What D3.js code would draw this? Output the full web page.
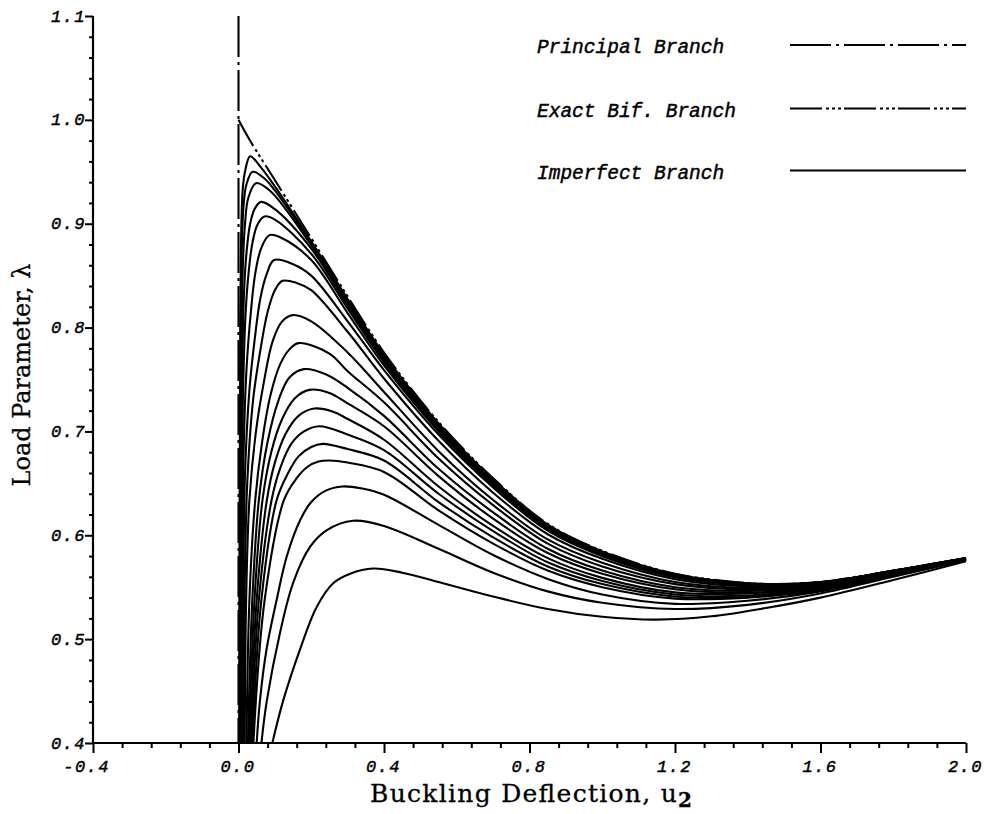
<!DOCTYPE html>
<html><head><meta charset="utf-8">
<script src="https://cdn.jsdelivr.net/npm/d3@7"></script>
<style>body{margin:0;background:#fff}</style>
</head><body>
<svg id="chart" width="985" height="814"></svg>
<script>
// ---- data ----
const xTicksMajor = [-0.4, 0.0, 0.4, 0.8, 1.2, 1.6, 2.0];
const xTickLabels = ["-0.4", "0.0", "0.4", "0.8", "1.2", "1.6", "2.0"];
const yTicksMajor = [0.4, 0.5, 0.6, 0.7, 0.8, 0.9, 1.0, 1.1];
const yTickLabels = ["0.4", "0.5", "0.6", "0.7", "0.8", "0.9", "1.0", "1.1"];
const legendLabels = ["Principal Branch", "Exact Bif. Branch", "Imperfect Branch"];

const principalU = [0, 0];
const principalL = [1.1, 0.4];

const bifU = [0, 0.03, 0.1, 0.2, 0.3, 0.4, 0.55, 0.7, 0.85, 1.0, 1.2, 1.4, 1.5, 1.6, 1.8, 2.0];
const bifL = [1.0, 0.981, 0.942, 0.886, 0.830, 0.776, 0.709, 0.655, 0.611, 0.585, 0.563, 0.554, 0.553, 0.555, 0.566, 0.578];

const imp01 = [[0.002,0.4],[0.003,0.6],[0.005,0.8],[0.008,0.9],[0.012,0.935],[0.019,0.952],[0.032,0.965],[0.06,0.955],[0.1,0.936],[0.2,0.883],[0.3,0.8275],[0.4,0.7743],[0.55,0.7078],[0.7,0.6541],[0.85,0.6103],[1.0,0.5845],[1.2,0.5626],[1.4,0.5538],[1.6,0.5549],[1.8,0.5659],[2.0,0.578]];
const imp02 = [[0.003,0.4],[0.004,0.6],[0.006,0.8],[0.010,0.89],[0.015,0.922],[0.022,0.938],[0.039,0.950],[0.07,0.944],[0.1,0.932],[0.2,0.881],[0.3,0.826],[0.4,0.7729],[0.55,0.7067],[0.7,0.6533],[0.85,0.6098],[1.0,0.584],[1.2,0.5623],[1.4,0.5536],[1.6,0.5548],[1.8,0.5659],[2.0,0.578]];
const imp03 = [[0.004,0.4],[0.005,0.6],[0.008,0.78],[0.012,0.86],[0.018,0.9],[0.027,0.925],[0.048,0.939],[0.075,0.935],[0.1,0.927],[0.2,0.879],[0.3,0.824],[0.4,0.7708],[0.55,0.7052],[0.7,0.6522],[0.85,0.609],[1.0,0.5834],[1.2,0.5619],[1.4,0.5534],[1.6,0.5546],[1.8,0.5658],[2.0,0.578]];
const imp04 = [[0.005,0.4],[0.006,0.6],[0.010,0.76],[0.016,0.84],[0.022,0.872],[0.031,0.898],[0.044,0.914],[0.062,0.921],[0.1,0.914],[0.2,0.876],[0.3,0.8215],[0.4,0.7687],[0.55,0.7036],[0.7,0.651],[0.85,0.6081],[1.0,0.5828],[1.2,0.5615],[1.4,0.5531],[1.6,0.5545],[1.8,0.5657],[2.0,0.5779]];
const imp05 = [[0.007,0.4],[0.008,0.6],[0.012,0.73],[0.019,0.81],[0.027,0.85],[0.038,0.881],[0.052,0.899],[0.071,0.907],[0.1,0.904],[0.2,0.871],[0.3,0.8185],[0.4,0.7666],[0.55,0.7021],[0.7,0.6499],[0.85,0.6073],[1.0,0.5821],[1.2,0.561],[1.4,0.5528],[1.6,0.5544],[1.8,0.5656],[2.0,0.5779]];
const imp06 = [[0.009,0.4],[0.010,0.55],[0.014,0.68],[0.022,0.76],[0.034,0.815],[0.046,0.852],[0.062,0.876],[0.085,0.889],[0.12,0.886],[0.2,0.865],[0.3,0.814],[0.4,0.7635],[0.55,0.700],[0.7,0.648],[0.85,0.606],[1.0,0.581],[1.2,0.5604],[1.4,0.5524],[1.6,0.5542],[1.8,0.5655],[2.0,0.5778]];
const imp07 = [[0.011,0.4],[0.013,0.55],[0.018,0.66],[0.030,0.74],[0.045,0.79],[0.060,0.828],[0.077,0.851],[0.098,0.865],[0.15,0.861],[0.2,0.850],[0.3,0.806],[0.4,0.759],[0.55,0.697],[0.7,0.646],[0.85,0.6044],[1.0,0.5799],[1.2,0.5595],[1.4,0.5519],[1.6,0.5539],[1.8,0.5654],[2.0,0.5778]];
const imp08 = [[0.014,0.4],[0.017,0.55],[0.024,0.65],[0.040,0.73],[0.060,0.778],[0.080,0.815],[0.100,0.836],[0.121,0.845],[0.16,0.843],[0.2,0.836],[0.3,0.796],[0.4,0.751],[0.55,0.691],[0.7,0.641],[0.85,0.601],[1.0,0.5773],[1.2,0.5577],[1.4,0.5509],[1.6,0.5533],[1.8,0.565],[2.0,0.5776]];
const imp09 = [[0.017,0.4],[0.021,0.538],[0.030,0.634],[0.048,0.70],[0.070,0.748],[0.094,0.787],[0.120,0.806],[0.149,0.812],[0.2,0.806],[0.3,0.776],[0.4,0.738],[0.55,0.681],[0.7,0.634],[0.85,0.596],[1.0,0.5735],[1.2,0.555],[1.4,0.5493],[1.6,0.5525],[1.8,0.5646],[2.0,0.5775]];
const imp10 = [[0.022,0.4],[0.030,0.538],[0.046,0.634],[0.065,0.69],[0.088,0.735],[0.115,0.765],[0.140,0.779],[0.165,0.785],[0.25,0.775],[0.3,0.758],[0.4,0.728],[0.55,0.674],[0.7,0.629],[0.85,0.592],[1.0,0.570],[1.2,0.553],[1.4,0.548],[1.6,0.5518],[1.8,0.5642],[2.0,0.5773]];
const imp11 = [[0.026,0.4],[0.038,0.538],[0.056,0.634],[0.080,0.69],[0.110,0.73],[0.140,0.752],[0.180,0.760],[0.24,0.755],[0.3,0.742],[0.4,0.715],[0.55,0.664],[0.7,0.622],[0.85,0.587],[1.0,0.566],[1.2,0.550],[1.4,0.5465],[1.6,0.551],[1.8,0.5637],[2.0,0.5771]];
const imp12 = [[0.029,0.4],[0.044,0.538],[0.066,0.634],[0.090,0.68],[0.120,0.712],[0.155,0.732],[0.195,0.740],[0.25,0.737],[0.3,0.727],[0.4,0.705],[0.55,0.657],[0.7,0.616],[0.85,0.583],[1.0,0.563],[1.2,0.548],[1.4,0.545],[1.6,0.5502],[1.8,0.5633],[2.0,0.577]];
const imp13 = [[0.032,0.4],[0.050,0.538],[0.078,0.634],[0.100,0.67],[0.130,0.698],[0.165,0.715],[0.208,0.722],[0.26,0.719],[0.3,0.712],[0.4,0.692],[0.55,0.647],[0.7,0.609],[0.85,0.578],[1.0,0.559],[1.2,0.545],[1.4,0.544],[1.6,0.5494],[1.8,0.5628],[2.0,0.5768]];
const imp14 = [[0.035,0.4],[0.056,0.538],[0.091,0.634],[0.115,0.665],[0.145,0.688],[0.180,0.700],[0.222,0.705],[0.3,0.697],[0.4,0.682],[0.55,0.640],[0.7,0.604],[0.85,0.574],[1.0,0.556],[1.2,0.543],[1.4,0.542],[1.6,0.549],[1.8,0.5624],[2.0,0.5767]];
const imp15 = [[0.038,0.4],[0.063,0.538],[0.105,0.634],[0.135,0.659],[0.165,0.676],[0.200,0.685],[0.231,0.688],[0.3,0.683],[0.4,0.672],[0.55,0.632],[0.7,0.598],[0.85,0.570],[1.0,0.553],[1.2,0.541],[1.4,0.5405],[1.6,0.548],[1.8,0.562],[2.0,0.5765]];
const imp16 = [[0.041,0.4],[0.072,0.538],[0.125,0.634],[0.160,0.655],[0.190,0.666],[0.220,0.671],[0.250,0.672],[0.3,0.670],[0.4,0.661],[0.55,0.624],[0.7,0.592],[0.85,0.566],[1.0,0.550],[1.2,0.539],[1.4,0.540],[1.6,0.547],[1.8,0.562],[2.0,0.5763]];
const imp17 = [[0.050,0.4],[0.059,0.441],[0.077,0.490],[0.105,0.538],[0.133,0.580],[0.170,0.615],[0.200,0.632],[0.240,0.643],[0.286,0.647],[0.34,0.645],[0.4,0.639],[0.55,0.610],[0.7,0.581],[0.85,0.558],[1.0,0.543],[1.2,0.534],[1.4,0.537],[1.6,0.546],[1.8,0.561],[2.0,0.576]];
const imp18 = [[0.063,0.4],[0.078,0.441],[0.114,0.506],[0.150,0.554],[0.197,0.589],[0.243,0.605],[0.315,0.614],[0.4,0.609],[0.55,0.587],[0.7,0.564],[0.85,0.546],[1.0,0.535],[1.2,0.529],[1.4,0.533],[1.6,0.544],[1.8,0.560],[2.0,0.576]];
const imp19 = [[0.093,0.4],[0.123,0.441],[0.169,0.490],[0.215,0.531],[0.261,0.554],[0.307,0.563],[0.370,0.568],[0.45,0.564],[0.55,0.555],[0.7,0.541],[0.85,0.529],[1.0,0.5215],[1.15,0.5188],[1.3,0.522],[1.45,0.530],[1.6,0.540],[1.8,0.557],[2.0,0.575]];
const imperfectBranches = [imp01,imp02,imp03,imp04,imp05,imp06,imp07,imp08,imp09,imp10,imp11,imp12,imp13,imp14,imp15,imp16,imp17,imp18,imp19];

// ---- drawing ----
const svg = d3.select("#chart");
const x = d3.scaleLinear().domain([-0.4, 2.0]).range([93, 966]);
const y = d3.scaleLinear().domain([0.4, 1.1]).range([743, 16]);

svg.append("defs").append("clipPath").attr("id", "plot")
  .append("rect").attr("x", 93).attr("y", 10).attr("width", 880).attr("height", 733);

const smooth = d3.line().x(d => x(d[0])).y(d => y(d[1])).curve(d3.curveCatmullRom.alpha(0.5));
const straight = d3.line().x(d => x(d[0])).y(d => y(d[1]));

const plot = svg.append("g").attr("clip-path", "url(#plot)");

plot.selectAll("path.imp").data(imperfectBranches).join("path")
  .attr("class", "imp")
  .attr("d", smooth)
  .attr("fill", "none").attr("stroke", "#000").attr("stroke-width", 2.1);

const bifPts = bifU.map((u, i) => [u, bifL[i]]);
plot.append("path").attr("d", smooth(bifPts))
  .attr("fill", "none").attr("stroke", "#000").attr("stroke-width", 2.1)
  .attr("stroke-dasharray", "30,4,3,3,3,3,3,4");

const prPts = principalU.map((u, i) => [u, principalL[i]]);
plot.append("path").attr("d", straight(prPts))
  .attr("fill", "none").attr("stroke", "#000").attr("stroke-width", 2.1)
  .attr("stroke-dasharray", "41,5,3,5");

// axes
const tickFont = "'Liberation Mono', 'DejaVu Sans Mono', monospace";
const xMinor = d3.range(-0.4, 2.0001, 0.08).filter(v => !xTicksMajor.some(m => Math.abs(m - v) < 1e-6));
const yMinor = d3.range(0.4, 1.1001, 0.02).filter(v => !yTicksMajor.some(m => Math.abs(m - v) < 1e-6));

const gx = svg.append("g").attr("transform", "translate(0,743)");
gx.call(d3.axisBottom(x).tickValues(xTicksMajor).tickSize(10).tickFormat(""));
const gxm = gx.append("g").call(d3.axisBottom(x).tickValues(xMinor).tickSize(5).tickFormat(""));
gxm.select(".domain").remove();
gx.select(".domain").attr("d", `M${x(-0.4)},0H${x(2.0)}`).attr("stroke-width", 2.2);
gx.selectAll(".tick line").attr("stroke-width", 2);

const gy = svg.append("g").attr("transform", "translate(93,0)");
gy.call(d3.axisLeft(y).tickValues(yTicksMajor).tickSize(8).tickFormat(""));
const gym = gy.append("g").call(d3.axisLeft(y).tickValues(yMinor).tickSize(4).tickFormat(""));
gym.select(".domain").remove();
gy.select(".domain").attr("d", `M0,${y(0.4)}V${y(1.1)}`).attr("stroke-width", 2.2);
gy.selectAll(".tick line").attr("stroke-width", 2);

// tick labels
svg.append("g").selectAll("text").data(xTicksMajor).join("text")
  .attr("x", d => x(d) + 17).attr("y", 772)
  .attr("text-anchor", "end")
  .attr("font-family", tickFont).attr("font-style", "italic").attr("font-size", 17)
  .attr("letter-spacing", 1.5)
  .attr("stroke", "#000").attr("stroke-width", 0.45)
  .text((d, i) => xTickLabels[i]);

svg.append("g").selectAll("text").data(yTicksMajor).join("text")
  .attr("x", 86).attr("y", d => y(d) + 5.5)
  .attr("text-anchor", "end")
  .attr("font-family", tickFont).attr("font-style", "italic").attr("font-size", 17)
  .attr("letter-spacing", 1.5)
  .attr("stroke", "#000").attr("stroke-width", 0.45)
  .text((d, i) => yTickLabels[i]);

// axis titles
const titleFont = "'DejaVu Serif', serif";
const xt = svg.append("text").attr("x", 531).attr("y", 802).attr("text-anchor", "middle")
  .attr("font-family", titleFont).attr("font-size", 25).attr("fill", "#000")
  .attr("stroke", "#000").attr("stroke-width", 0.3)
  .attr("textLength", 322).attr("lengthAdjust", "spacing");
xt.append("tspan").text("Buckling Deflection, u");
xt.append("tspan").attr("dy", 5).attr("font-weight", "bold").attr("font-size", 20).text("2");

svg.append("text").attr("transform", "translate(30,375) rotate(-90)")
  .attr("text-anchor", "middle")
  .attr("font-family", titleFont).attr("font-size", 24).attr("fill", "#000")
  .attr("stroke", "#000").attr("stroke-width", 0.3)
  .text("Load Parameter, λ");

// legend
const legendY = [45, 108.5, 170.5];
const legendDash = ["41,5,3,5", "32,4,3,3,3,3,3,3", null];
const lg = svg.append("g");
legendLabels.forEach((t, i) => {
  lg.append("text").attr("x", 537).attr("y", legendY[i] + 8)
    .attr("font-family", tickFont).attr("font-style", "italic").attr("font-size", 19.5)
    .attr("stroke", "#000").attr("stroke-width", 0.45)
    .text(t);
  const ln = lg.append("line").attr("x1", 790).attr("x2", 966)
    .attr("y1", legendY[i]).attr("y2", legendY[i])
    .attr("stroke", "#000").attr("stroke-width", 2.2);
  if (legendDash[i]) ln.attr("stroke-dasharray", legendDash[i]);
});
</script>
</body></html>
